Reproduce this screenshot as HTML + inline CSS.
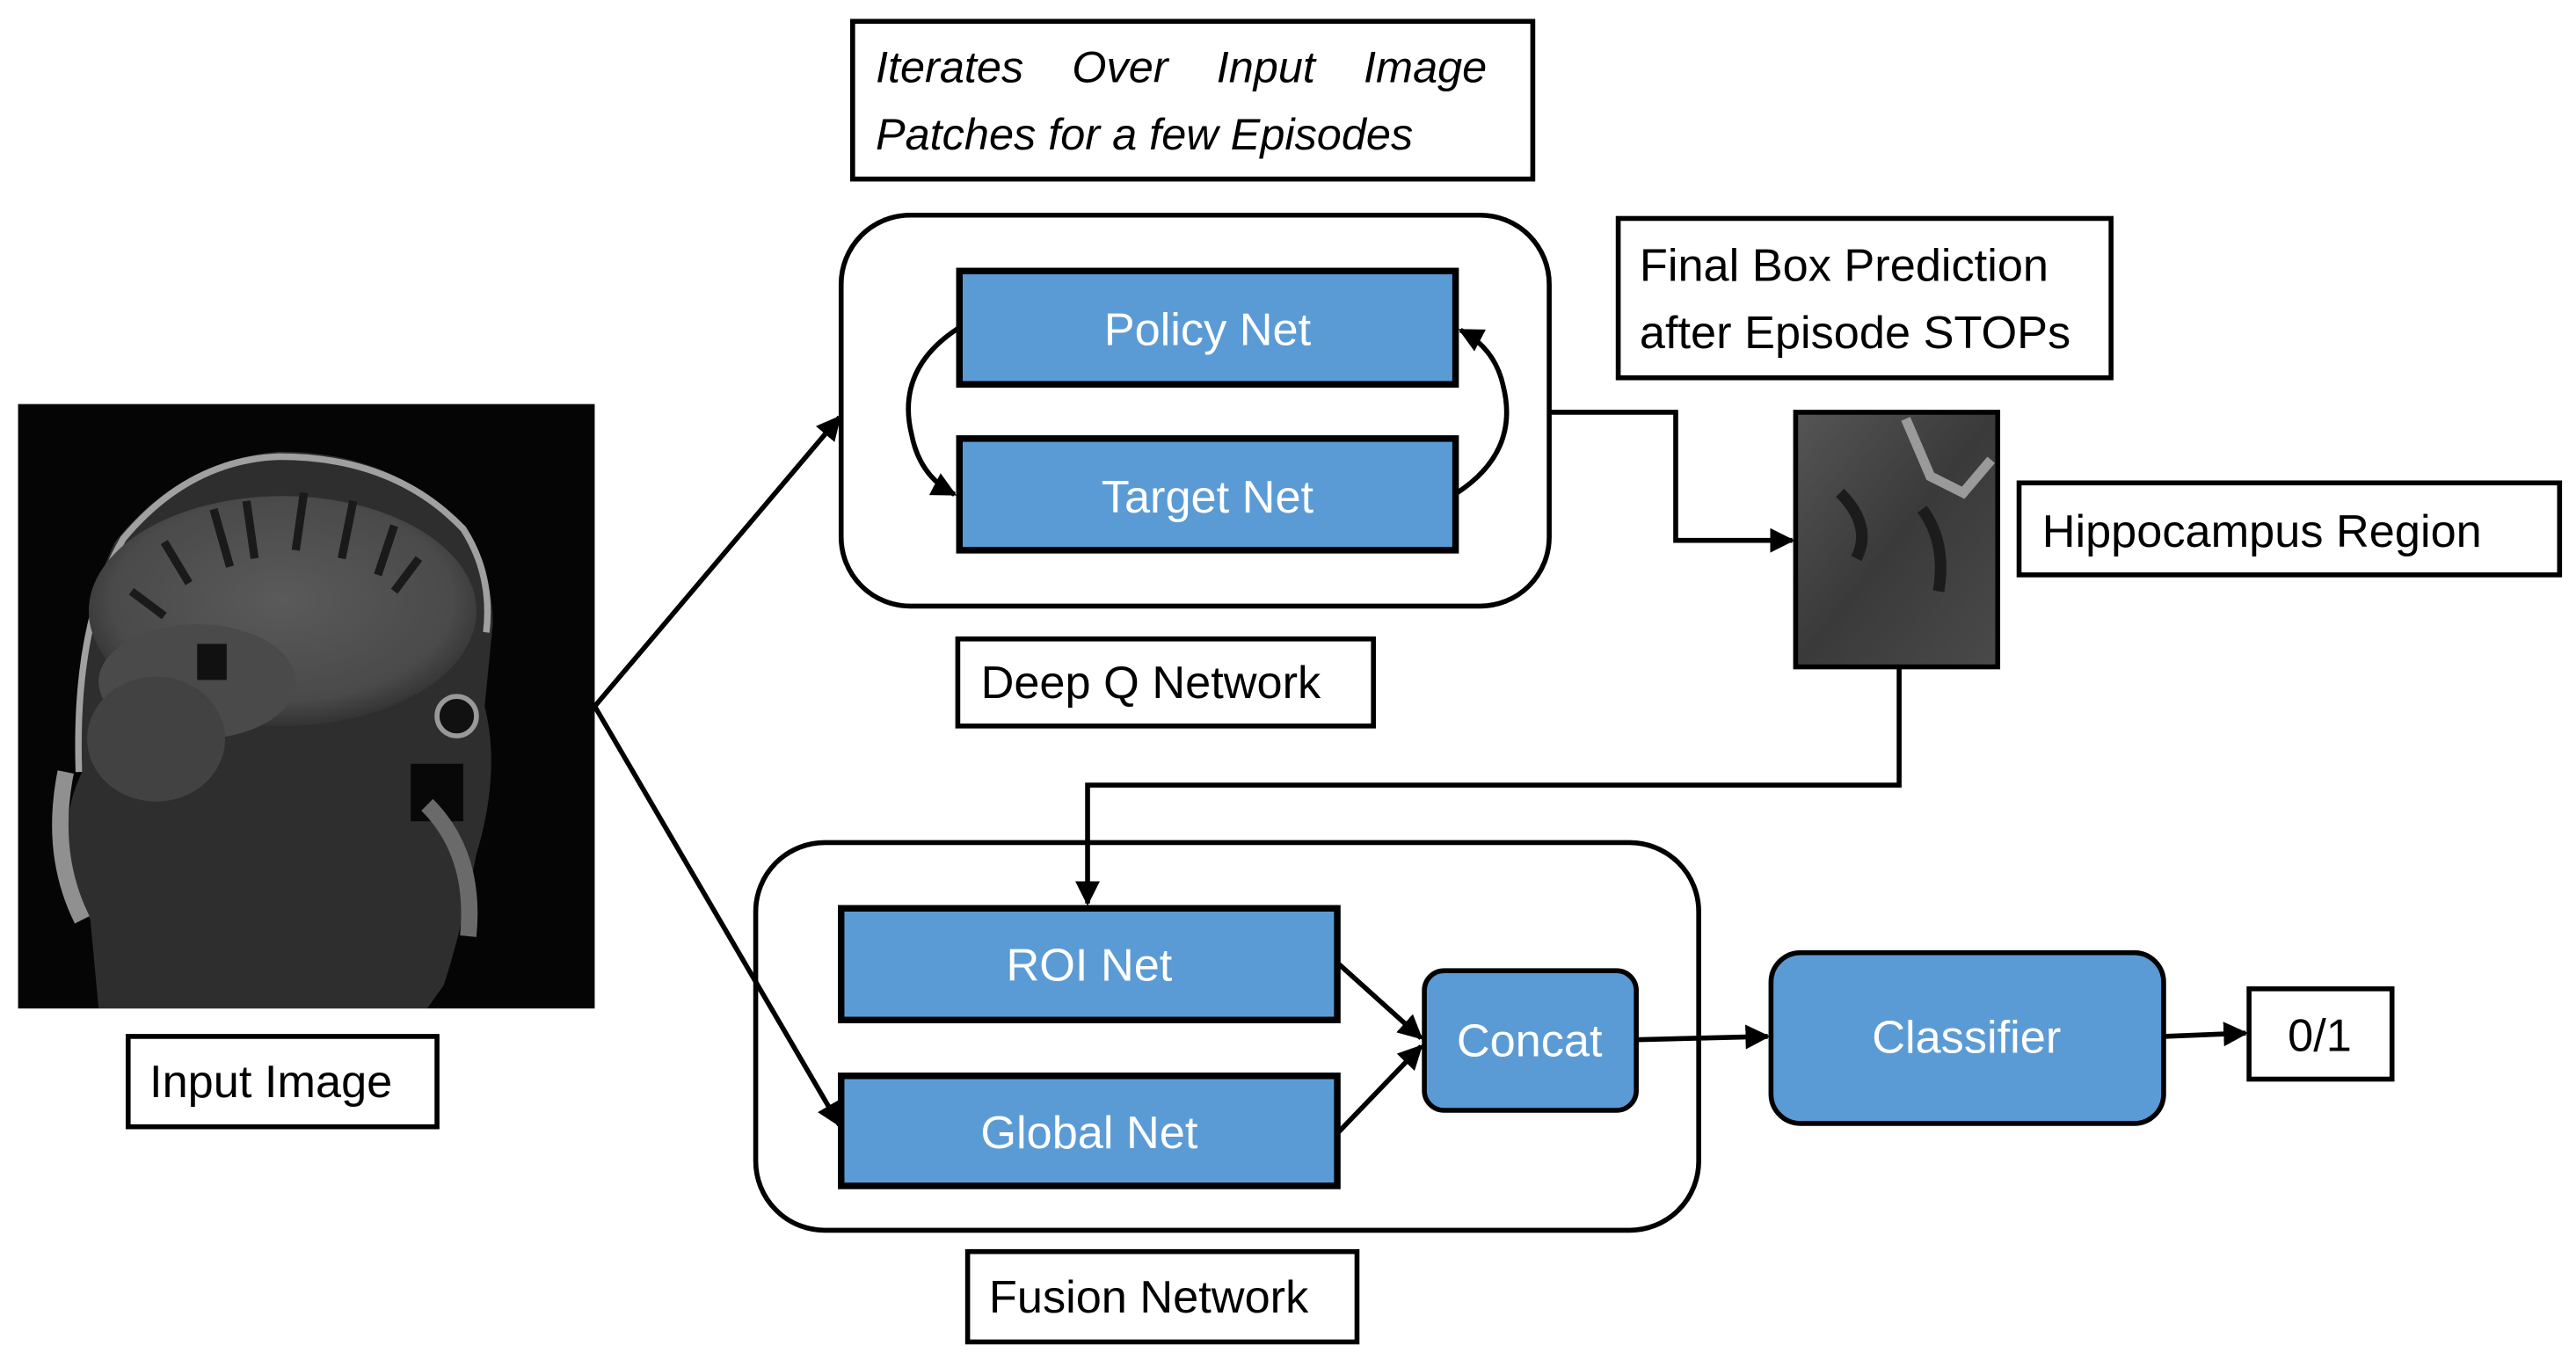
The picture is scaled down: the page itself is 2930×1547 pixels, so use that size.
<!DOCTYPE html>
<html><head><meta charset="utf-8"><style>
html,body{margin:0;padding:0;background:#fff;}
svg{display:block;}
text{font-family:"Liberation Sans",sans-serif;}
</style></head><body>
<svg width="2930" height="1547" viewBox="0 0 1568 828" preserveAspectRatio="none" xmlns="http://www.w3.org/2000/svg">
<defs>
<marker id="ah" viewBox="0 0 10 10" refX="9" refY="5" markerWidth="5" markerHeight="5" orient="auto-start-reverse" markerUnits="strokeWidth">
<path d="M0,0 L10,5 L0,10 z" fill="#000"/></marker>
<radialGradient id="br" cx="0.5" cy="0.45" r="0.55"><stop offset="0" stop-color="#5a5a5a"/><stop offset="0.8" stop-color="#4a4a4a"/><stop offset="1" stop-color="#333"/></radialGradient>
<linearGradient id="hip" x1="0" y1="0" x2="1" y2="1"><stop offset="0" stop-color="#555"/><stop offset="0.5" stop-color="#3a3a3a"/><stop offset="1" stop-color="#4a4a4a"/></linearGradient>
<clipPath id="ic"><rect x="11" y="246" width="351" height="368"/></clipPath>
</defs>
<rect width="1568" height="828" fill="#fff"/>

<!-- input image -->
<rect x="11" y="246" width="351" height="368" fill="#050505"/>
<g clip-path="url(#ic)">
<path d="M60,614 L55,560 Q30,510 50,470 Q45,380 70,330 Q110,280 170,275 Q240,275 280,320 Q300,345 300,380 L295,430 Q305,470 290,520 Q280,570 270,600 L260,614 Z" fill="#2e2e2e"/>
<path d="M48,470 Q45,380 75,328 Q115,280 170,278 Q240,278 282,322 Q300,350 296,385" fill="none" stroke="#a0a0a0" stroke-width="4"/>
<ellipse cx="172" cy="372" rx="118" ry="70" fill="url(#br)"/>
<ellipse cx="120" cy="415" rx="60" ry="35" fill="#4a4a4a"/>
<ellipse cx="95" cy="450" rx="42" ry="38" fill="#424242"/>
<path d="M130,310 L140,345 M150,305 L155,340 M185,300 L180,335 M215,305 L208,340 M240,320 L230,350 M255,340 L240,360 M100,330 L115,355 M80,360 L100,375" stroke="#1a1a1a" stroke-width="5"/>
<rect x="120" y="392" width="18" height="22" fill="#111"/>
<circle cx="278" cy="436" r="12" fill="#111" stroke="#999" stroke-width="3"/>
<rect x="250" y="465" width="32" height="35" fill="#080808"/>
<path d="M40,470 Q30,520 50,560" stroke="#909090" stroke-width="10" fill="none"/>
<path d="M260,490 Q290,520 285,570" stroke="#6a6a6a" stroke-width="10" fill="none"/>
</g>

<!-- Iterates box -->
<rect x="519" y="13" width="414" height="96" fill="#fff" stroke="#000" stroke-width="3"/>
<text x="533" y="50" font-size="27" font-style="italic" word-spacing="22">Iterates Over Input Image</text>
<text x="533" y="91" font-size="27" font-style="italic">Patches for a few Episodes</text>

<!-- DQN -->
<rect x="512" y="131" width="431" height="238" rx="42" fill="#fff" stroke="#000" stroke-width="3"/>
<rect x="584" y="165" width="302" height="69" fill="#5b9bd5" stroke="#000" stroke-width="4"/>
<text x="735" y="210" font-size="28" fill="#fff" text-anchor="middle">Policy Net</text>
<rect x="584" y="267" width="302" height="68" fill="#5b9bd5" stroke="#000" stroke-width="4"/>
<text x="735" y="312" font-size="28" fill="#fff" text-anchor="middle">Target Net</text>
<path d="M583,200 Q545,225 555,265 Q560,290 581,301" fill="none" stroke="#000" stroke-width="3" marker-end="url(#ah)"/>
<path d="M887,300 Q925,275 915,235 Q910,212 889,201" fill="none" stroke="#000" stroke-width="3" marker-end="url(#ah)"/>

<rect x="583" y="389" width="253" height="53" fill="#fff" stroke="#000" stroke-width="3"/>
<text x="597" y="425" font-size="28">Deep Q Network</text>

<!-- Final box -->
<rect x="985" y="133" width="300" height="97" fill="#fff" stroke="#000" stroke-width="3"/>
<text x="998" y="171" font-size="28">Final Box Prediction</text>
<text x="998" y="212" font-size="28">after  Episode STOPs</text>

<!-- hippocampus -->
<rect x="1093" y="251" width="123" height="155" fill="url(#hip)" stroke="#000" stroke-width="3"/>
<path d="M1160,255 L1175,290 L1195,300 L1212,280" stroke="#9a9a9a" stroke-width="6" fill="none"/>
<path d="M1170,310 Q1185,330 1180,360 M1120,300 Q1140,320 1130,340" stroke="#1c1c1c" stroke-width="7" fill="none"/>

<rect x="1229" y="294" width="329" height="56" fill="#fff" stroke="#000" stroke-width="3"/>
<text x="1243" y="333" font-size="28">Hippocampus Region</text>

<rect x="78" y="631" width="188" height="55" fill="#fff" stroke="#000" stroke-width="3"/>
<text x="91" y="668" font-size="28">Input Image</text>

<!-- Fusion -->
<rect x="460" y="513" width="574" height="236" rx="42" fill="#fff" stroke="#000" stroke-width="3"/>
<rect x="512" y="553" width="302" height="68" fill="#5b9bd5" stroke="#000" stroke-width="4"/>
<text x="663" y="597" font-size="28" fill="#fff" text-anchor="middle">ROI Net</text>
<rect x="512" y="655" width="302" height="67" fill="#5b9bd5" stroke="#000" stroke-width="4"/>
<text x="663" y="699" font-size="28" fill="#fff" text-anchor="middle">Global Net</text>
<rect x="867" y="591" width="129" height="85" rx="12" fill="#5b9bd5" stroke="#000" stroke-width="3"/>
<text x="931" y="643" font-size="28" fill="#fff" text-anchor="middle">Concat</text>

<rect x="1078" y="580" width="239" height="104" rx="18" fill="#5b9bd5" stroke="#000" stroke-width="3"/>
<text x="1197" y="641" font-size="28" fill="#fff" text-anchor="middle">Classifier</text>
<rect x="1369" y="602" width="87" height="55" fill="#fff" stroke="#000" stroke-width="3"/>
<text x="1412" y="640" font-size="28" text-anchor="middle">0/1</text>

<rect x="589" y="762" width="237" height="55" fill="#fff" stroke="#000" stroke-width="3"/>
<text x="602" y="799" font-size="28">Fusion Network</text>

<!-- connectors on top -->
<polyline points="943,251 1020,251 1020,329 1091,329" fill="none" stroke="#000" stroke-width="3" marker-end="url(#ah)"/>
<polyline points="1156,406 1156,478 662,478 662,550" fill="none" stroke="#000" stroke-width="3" marker-end="url(#ah)"/>
<line x1="362" y1="430" x2="511" y2="254" stroke="#000" stroke-width="3" marker-end="url(#ah)"/>
<line x1="362" y1="430" x2="511" y2="685" stroke="#000" stroke-width="3" marker-end="url(#ah)"/>
<line x1="815" y1="587" x2="865" y2="632" stroke="#000" stroke-width="3" marker-end="url(#ah)"/>
<line x1="815" y1="689" x2="865" y2="637" stroke="#000" stroke-width="3" marker-end="url(#ah)"/>
<line x1="996" y1="633" x2="1076" y2="631" stroke="#000" stroke-width="3" marker-end="url(#ah)"/>
<line x1="1317" y1="631" x2="1367" y2="629" stroke="#000" stroke-width="3" marker-end="url(#ah)"/>
</svg>
</body></html>
